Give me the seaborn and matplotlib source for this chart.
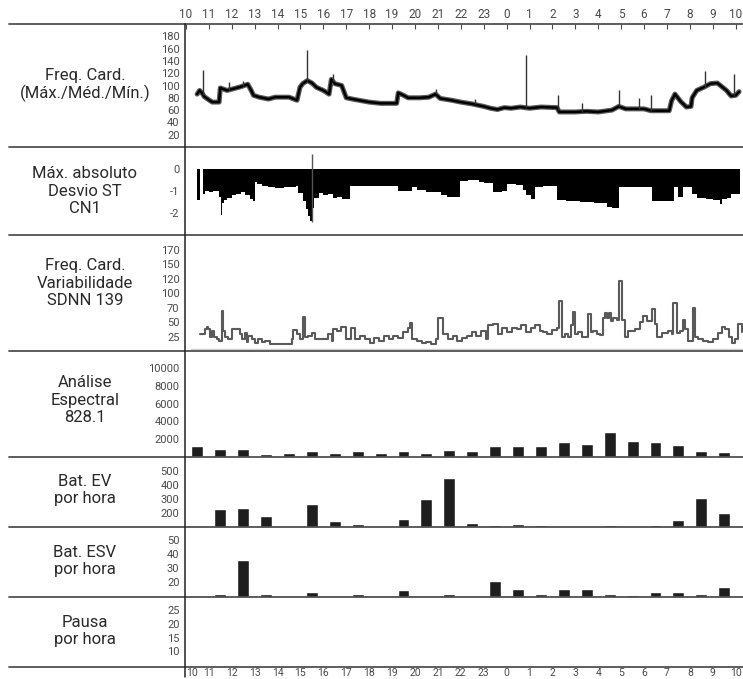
# Holter 24h summary panel (heart rate, ST, HRV, spectral, ectopy, pauses).

import matplotlib

matplotlib.use("Agg")

import matplotlib.pyplot as plt
import numpy as np
import seaborn as sns
from matplotlib.lines import Line2D

# --- data -------------------------------------------------------------------
# hours are counted from 10:00 (0) to 10:00 next day (24)
hour_labels = ["10", "11", "12", "13", "14", "15", "16", "17", "18", "19", "20", "21",
               "22", "23", "0", "1", "2", "3", "4", "5", "6", "7", "8", "9", "10"]

panel_labels = [
    "Freq. Card.\n(Máx./Méd./Mín.)",
    "Máx. absoluto\nDesvio ST\nCN1",
    "Freq. Card.\nVariabilidade\nSDNN 139",
    "Análise\nEspectral\n828.1",
    "Bat. EV\npor hora",
    "Bat. ESV\npor hora",
    "Pausa\npor hora",
]

# heart rate (mean trace)
hr_hours = [0.49, 0.6, 0.7, 0.8, 0.95, 1.15, 1.45, 1.5, 1.8, 2.1, 2.4, 2.7, 2.85, 2.95,
            3.2, 3.6, 3.9, 4.5, 4.85, 4.98, 5.1, 5.3, 5.5, 5.7, 6.0, 6.25, 6.35, 6.5,
            6.8, 7.0, 7.4, 8.0, 8.5, 9.2, 9.27, 9.5, 9.7, 10.2, 10.6, 10.9, 11.1, 11.6,
            12.0, 12.5, 13.0, 13.3, 13.6, 13.9, 14.2, 14.6, 15.0, 15.5, 16.2, 16.3,
            17.0, 17.5, 18.0, 18.6, 18.9, 19.2, 20.0, 20.3, 21.1, 21.2, 21.35, 21.6,
            21.85, 22.05, 22.1, 22.3, 22.6, 22.9, 23.2, 23.4, 23.6, 23.8, 24.0, 24.15]
hr_values = [86, 92, 88, 82, 78, 73, 73, 96, 92, 95, 98, 102, 92, 84,
             81, 78, 81, 81, 76, 97, 103, 108, 104, 97, 92, 86, 110, 103,
             100, 80, 77, 73, 71, 71, 88, 84, 80, 80, 81, 86, 79, 76,
             73, 70, 66, 63, 61, 64, 63, 65, 63, 65, 64, 57,
             57, 58, 57, 60, 66, 62, 62, 59, 59, 75, 86, 74,
             65, 66, 80, 92, 97, 103, 104, 98, 92, 83, 84, 90]
hr_spike_hours = [0.76, 1.9, 2.5, 5.27, 6.4, 10.9, 12.6, 14.85, 16.25, 17.3, 18.9, 19.8,
                  20.3, 22.66, 23.93]
hr_spike_values = [125, 105, 108, 157, 118, 94, 78, 150, 84, 71, 93, 80, 84, 124, 118]

# ST deviation, channel 1
st_hours = [0.50, 0.61, 0.75, 0.85, 1.0, 1.2, 1.45, 1.52, 1.56, 1.65, 1.8, 2.0, 2.2, 2.4,
            2.6, 2.8, 2.93, 3.0, 3.1, 3.3, 3.6, 3.9, 4.3, 4.6, 4.8, 4.9, 5.1, 5.25,
            5.35, 5.42, 5.5, 5.6, 5.8, 6.0, 6.2, 6.4, 6.6, 6.8, 7.15, 9.26, 9.88, 10.09,
            10.5, 11.12, 11.4, 11.95, 12.3, 12.78, 13.0, 13.4, 13.82, 14.02, 14.43, 14.7,
            14.85, 15.06, 15.26, 15.6, 16.2, 16.6, 17.2, 17.8, 18.4, 18.6, 18.9, 19.5,
            20.35, 21.3, 21.5, 21.7, 22.1, 22.3, 22.7, 23.0, 23.3, 23.4, 23.6, 23.8, 24.2]
st_values = [-1.40, 0.0, -1.15, -1.00, -1.05, -0.98, -1.25, -2.08, -1.55, -1.40, -1.30,
             -1.20, -1.15, -1.05, -1.20, -1.35, -1.45, -0.60, -0.70, -0.78, -0.80, -0.85,
             -0.84, -0.84, -0.78, -1.10, -1.45, -1.80, -2.10, -2.35, -1.75, -1.30, -1.10,
             -1.20, -1.15, -1.30, -1.25, -1.35, -0.78, -1.00, -0.82, -0.95, -1.05, -1.20,
             -1.25, -0.55, -0.52, -0.60, -0.62, -1.05, -1.00, -0.68, -0.72, -0.95, -1.20,
             -1.35, -0.80, -0.78, -1.42, -1.45, -1.48, -1.52, -1.70, -1.78, -0.82, -0.80,
             -1.45, -0.80, -1.25, -0.80, -1.15, -1.30, -1.35, -1.40, -1.60, -1.35, -1.30,
             -1.15, -1.12]
st_marker_hour = 5.49
st_marker_range = [-2.38, 0.66]

# heart rate variability (SDNN)
sdnn_hours = [0.61, 0.83, 0.90, 0.97, 1.05, 1.12, 1.22, 1.34, 1.44, 1.56, 1.63, 1.70, 1.85,
              2.0, 2.36, 2.43, 2.58, 2.65, 2.72, 2.87, 3.01, 3.16, 3.31, 3.45, 3.67, 3.81,
              4.61, 4.69, 4.83, 4.98, 5.12, 5.2, 5.34, 5.49, 5.63, 6.21, 6.36, 6.43, 6.58,
              6.78, 6.98, 7.19, 7.40, 7.61, 7.81, 8.02, 8.23, 8.43, 8.64, 8.85, 9.06, 9.26,
              9.47, 9.68, 9.78, 9.88, 10.09, 10.3, 10.5, 10.71, 10.92, 11.02, 11.23, 11.44,
              11.64, 11.85, 12.06, 12.26, 12.47, 12.68, 12.88, 13.09, 13.2, 13.4, 13.61,
              13.82, 14.02, 14.23, 14.44, 14.64, 14.85, 15.06, 15.26, 15.47, 15.6, 15.75,
              15.97, 16.19, 16.3, 16.41, 16.55, 16.69, 16.8, 16.89, 16.99, 17.13, 17.28,
              17.42, 17.57, 17.67, 17.79, 17.93, 18.08, 18.22, 18.3, 18.4, 18.46, 18.55,
              18.66, 18.84, 18.92, 19.03, 19.17, 19.32, 19.61, 19.83, 19.97, 20.12, 20.35,
              20.48, 20.58, 20.77, 21.06, 21.21, 21.28, 21.43, 21.57, 21.69, 21.79, 21.93,
              22.13, 22.23, 22.37, 22.59, 22.81, 23.03, 23.25, 23.4, 23.55, 23.7, 23.85,
              23.97, 24.12, 24.27]
sdnn_values = [30, 38, 42, 38, 25, 35, 24, 21, 18, 65, 35, 25, 21,
               38, 30, 21, 31, 15, 26, 21, 13.5, 21, 15, 18, 12, 12,
               21, 36, 30, 21, 57, 24, 26, 31, 21, 30, 18, 38, 35,
               41, 20, 40, 20, 26, 20, 14.5, 23, 17, 26, 20, 26, 23,
               32, 40, 48, 20, 17, 14.5, 15, 11.5, 20, 55, 29, 20,
               26, 17, 23, 26, 32, 26, 35, 20, 44, 46, 29,
               40, 32, 40, 38, 44, 32, 40, 44, 35, 32, 30,
               37, 39, 83, 24, 30, 24, 44, 64, 30, 32, 24,
               25, 61, 32, 35, 30, 27, 55, 62, 55, 62, 52,
               55, 53, 117, 53, 24, 35, 38, 50, 58, 52, 68,
               47, 24, 31, 35, 29, 79, 31, 35, 53, 38, 18,
               70, 24, 21, 18, 15, 21, 31, 41, 38, 25, 13.5,
               21, 47, 32]
sdnn_ticks = [25, 50, 70, 100, 120, 150, 170]

# hourly bars (10-11h ... 9-10h)
spectral = [1210, 875, 875, 315, 460, 650, 460, 650, 460, 650, 460, 760,
            650, 1210, 1210, 1210, 1660, 1435, 2780, 1770, 1660, 1320, 650, 540]
ev_per_hour = [0, 231, 238, 181, 110, 266, 145, 122, 0, 155, 302, 452,
               128, 117, 122, 117, 0, 0, 117, 0, 117, 148, 310, 200]
esv_per_hour = [0, 11.4, 36.2, 11.4, 0, 13.4, 0, 11.4, 0, 14.5, 0, 11.4,
                0, 21, 15.5, 11.4, 15.5, 15.5, 11.4, 10.8, 13, 13, 11.4, 16.5]

# --- layout (pixels) ---------------------------------------------------------
W, H = 743, 679
X_AXIS = 185
PANEL_EDGES = [24, 147, 235, 351, 457, 527, 597, 667]
LABEL_Y = [85, 191, 283, 400, 490, 561, 631]
XLIM = (-0.04, 24.32)

sns.set_style("white")
plt.rcParams["font.family"] = ["Roboto", "DejaVu Sans"]
plt.rcParams["axes.unicode_minus"] = False

TEXT = "#2a2a2a"
TICK = "#4a4a4a"
LINE = "#505050"
BAR = "#1e1e1e"

fig = plt.figure(figsize=(W / 100, H / 100), dpi=100)


def add_panel(i):
    top, bottom = PANEL_EDGES[i], PANEL_EDGES[i + 1]
    ax = fig.add_axes([X_AXIS / W, 1 - bottom / H, (W - X_AXIS) / W, (bottom - top) / H])
    ax.set_facecolor("none")
    for s in ax.spines.values():
        s.set_visible(False)
    ax.set_xlim(*XLIM)
    ax.set_xticks([])
    ax.tick_params(axis="y", direction="out", length=3, width=0.8, color=TICK,
                   labelsize=8, labelcolor=TICK, pad=1)
    return ax


axes = [add_panel(i) for i in range(7)]
hours = np.arange(24) + 0.5

# panel 1: heart rate (max/min band drawn as a dark halo under the mean)
ax = axes[0]
sns.lineplot(x=hr_hours, y=hr_values, ax=ax, color="#5a5a5a", lw=3.6, sort=False)
sns.lineplot(x=hr_hours, y=hr_values, ax=ax, color="black", lw=1.8, sort=False)
ax.vlines(hr_spike_hours, np.interp(hr_spike_hours, hr_hours, hr_values), hr_spike_values,
          color="#333333", lw=1.0)
ax.set_ylim(0, 200)
ax.set_yticks([20, 40, 60, 80, 100, 120, 140, 160, 180])

# panel 2: ST deviation
ax = axes[1]
ax.fill_between(st_hours, 0, st_values, step="post", color="black", lw=0)
ax.vlines([st_marker_hour], *st_marker_range, color="#555555", lw=1)
ax.set_ylim(-2.97, 0.97)
ax.set_yticks([0, -1, -2])

# panel 3: SDNN on a stepped (piecewise) scale
ax = axes[2]
knots_v = [0] + sdnn_ticks + [190]
knots_p = np.arange(len(knots_v), dtype=float)
ax.set_yscale("function", functions=(lambda v: np.interp(v, knots_v, knots_p),
                                     lambda p: np.interp(p, knots_p, knots_v)))
sns.lineplot(x=sdnn_hours, y=sdnn_values, ax=ax, color="#5a5a5a", lw=1.5,
             drawstyle="steps-post", sort=False)
ax.axhline(4, xmin=0.01, color="#d0d0d0", lw=1)
ax.set_ylim(0, 190)
ax.set_yticks(sdnn_ticks)
ax.set_yticklabels([str(v) for v in sdnn_ticks])

# panels 4-6: hourly bars
for ax, values, ylim, ticks in [
    (axes[3], spectral, (0, 11900), [2000, 4000, 6000, 8000, 10000]),
    (axes[4], ev_per_hour, (100, 600), [200, 300, 400, 500]),
    (axes[5], esv_per_hour, (9.5, 59.5), [20, 30, 40, 50]),
]:
    sns.barplot(x=hours, y=values, ax=ax, native_scale=True, width=0.52, color=BAR,
                saturation=1, errorbar=None)
    ax.set_xlim(*XLIM)
    ax.set_xticks([])
    ax.set_xlabel("")
    ax.set_ylabel("")
    ax.set_ylim(*ylim)
    ax.set_yticks(ticks)

# panel 7: pauses (none recorded)
ax = axes[6]
ax.set_ylim(4.3, 29.9)
ax.set_yticks([10, 15, 20, 25])

# hour axis on top and bottom
ax = axes[0]
ax.set_xticks(range(25))
ax.set_xticklabels(hour_labels)
ax.tick_params(axis="x", top=True, labeltop=True, bottom=False, labelbottom=False,
               direction="in", length=3.5, width=0.8, color=TICK, labelsize=8.5,
               labelcolor=TICK, pad=2)

ax = axes[6]
ax.set_xticks(range(25))
ax.set_xticklabels(hour_labels)
ax.tick_params(axis="x", bottom=True, labelbottom=True, length=0, labelsize=7.5,
               labelcolor=TICK, pad=0.5)
ax.get_xticklabels()[0].set_ha("left")

# frame lines
for y in PANEL_EDGES:
    fig.add_artist(Line2D([9 / W, 1], [1 - y / H] * 2, color=LINE, lw=1.3))
fig.add_artist(Line2D([X_AXIS / W] * 2, [1 - 24 / H, 1 - 677 / H], color="#222222", lw=1.1))

# row titles
for label, y in zip(panel_labels, LABEL_Y):
    fig.text(85 / W, 1 - y / H, label, ha="center", va="center", fontsize=12,
             color=TEXT, linespacing=1.2)

fig.savefig("out.png", dpi=100)
